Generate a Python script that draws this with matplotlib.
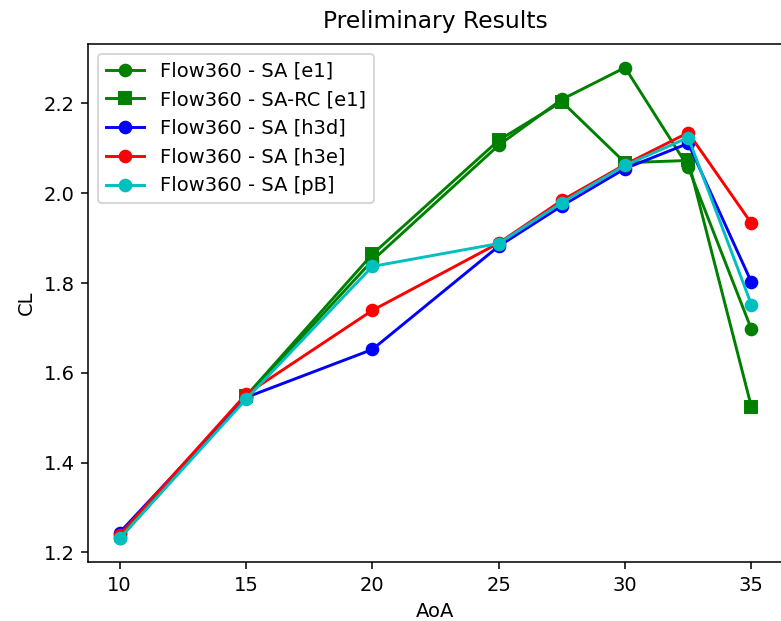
import matplotlib
matplotlib.use('Agg')
import numpy as np
import matplotlib.pyplot as plt

# Angle of attack
aoa = [10, 15, 20, 25, 27.5, 30, 32.5, 35]

# Lift coefficients (SA-RC has no point at 10 deg)
cl_sa_e1 = [1.231, 1.545, 1.850, 2.107, 2.209, 2.280, 2.058, 1.697]
cl_sarc_e1 = [np.nan, 1.548, 1.864, 2.118, 2.204, 2.068, 2.073, 1.524]
cl_sa_h3d = [1.244, 1.545, 1.652, 1.882, 1.972, 2.055, 2.111, 1.802]
cl_sa_h3e = [1.239, 1.552, 1.739, 1.889, 1.984, 2.064, 2.135, 1.933]
cl_sa_pb = [1.231, 1.541, 1.837, 1.888, 1.979, 2.062, 2.124, 1.752]

dpi = 140
fig = plt.figure(figsize=(781/dpi, 621/dpi), dpi=dpi)
ax = fig.add_axes([88/781, 59/621, 695/781, 518/621])

ax.plot(aoa, cl_sa_e1, 'g-o', label='Flow360 - SA [e1]')
ax.plot(aoa, cl_sarc_e1, 'g-s', label='Flow360 - SA-RC [e1]')
ax.plot(aoa, cl_sa_h3d, 'b-o', label='Flow360 - SA [h3d]')
ax.plot(aoa, cl_sa_h3e, 'r-o', label='Flow360 - SA [h3e]')
ax.plot(aoa, cl_sa_pb, 'c-o', label='Flow360 - SA [pB]')

ax.set_title('Preliminary Results', pad=8)
ax.set_xlabel('AoA')
ax.set_ylabel('CL')
ax.legend(loc='upper left')

fig.savefig('out.png', dpi=dpi)
